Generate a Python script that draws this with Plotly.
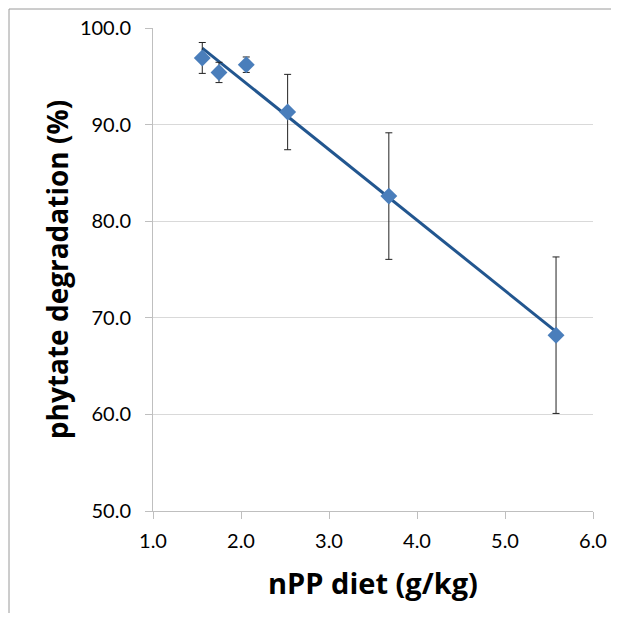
import numpy as np
import plotly.graph_objects as go

npp_diet = [1.56, 1.75, 2.06, 2.53, 3.68, 5.58]
phytate_deg = [96.9, 95.4, 96.2, 91.3, 82.6, 68.2]
err = [1.6, 1.05, 0.8, 3.9, 6.55, 8.1]
x_ticks = [1, 2, 3, 4, 5, 6]
x_ticklabels = ["1.0", "2.0", "3.0", "4.0", "5.0", "6.0"]
y_ticks = [50, 60, 70, 80, 90, 100]
y_ticklabels = ["50.0", "60.0", "70.0", "80.0", "90.0", "100.0"]

slope, intercept = np.polyfit(npp_diet, phytate_deg, 1)
xfit = [min(npp_diet), max(npp_diet)]
yfit = [slope * v + intercept for v in xfit]

FONT = "Lato"
TFONT = "Open Sans"
W, H = 603, 605
L, R, T, B = 145, 18, 20, 102
pw = W - L - R
ph = H - T - B

fig = go.Figure()
fig.add_trace(go.Scatter(
    x=xfit, y=yfit, mode="lines",
    line=dict(color="#22568F", width=3), showlegend=False, hoverinfo="skip"))
fig.add_trace(go.Scatter(
    x=npp_diet, y=phytate_deg, mode="markers",
    marker=dict(symbol="diamond", size=13, color="#4A7EBB"),
    error_y=dict(type="data", array=err, visible=True, color="#222222",
                 thickness=1, width=3.5),
    showlegend=False))

fig.update_layout(
    width=W, height=H,
    margin=dict(l=L, r=R, t=T, b=B, autoexpand=False),
    paper_bgcolor="white", plot_bgcolor="white",
    font=dict(family=FONT, color="#000000"),
    xaxis=dict(range=[1, 6], tickvals=x_ticks, ticktext=x_ticklabels,
               showgrid=False, showline=True, linecolor="#BFBFBF", linewidth=1,
               ticks="outside", ticklen=7, tickcolor="#BFBFBF",
               tickfont=dict(size=20, family=FONT), zeroline=False,
               ticklabelstandoff=5,
               title=dict(text="<b>nPP diet (g/kg)</b>", font=dict(size=29, family=TFONT), standoff=22)),
    yaxis=dict(range=[50, 100], tickvals=y_ticks, ticktext=y_ticklabels,
               showgrid=True, gridcolor="#D9D9D9", gridwidth=1,
               showline=True, linecolor="#BFBFBF", linewidth=1,
               ticks="outside", ticklen=7, tickcolor="#BFBFBF",
               tickfont=dict(size=20, family=FONT), zeroline=False,
               ticklabelstandoff=10,
               title=dict(text="<b>phytate degradation (%)</b>", font=dict(size=28, family=TFONT), standoff=3)),
)

fig.add_shape(type="rect", xref="paper", yref="paper",
              x0=(1 - L) / pw, x1=2, y0=-1, y1=(T + ph - 1) / ph,
              line=dict(color="#9A9A9A", width=1), fillcolor="rgba(0,0,0,0)", layer="below")

fig.write_html("out.html")
